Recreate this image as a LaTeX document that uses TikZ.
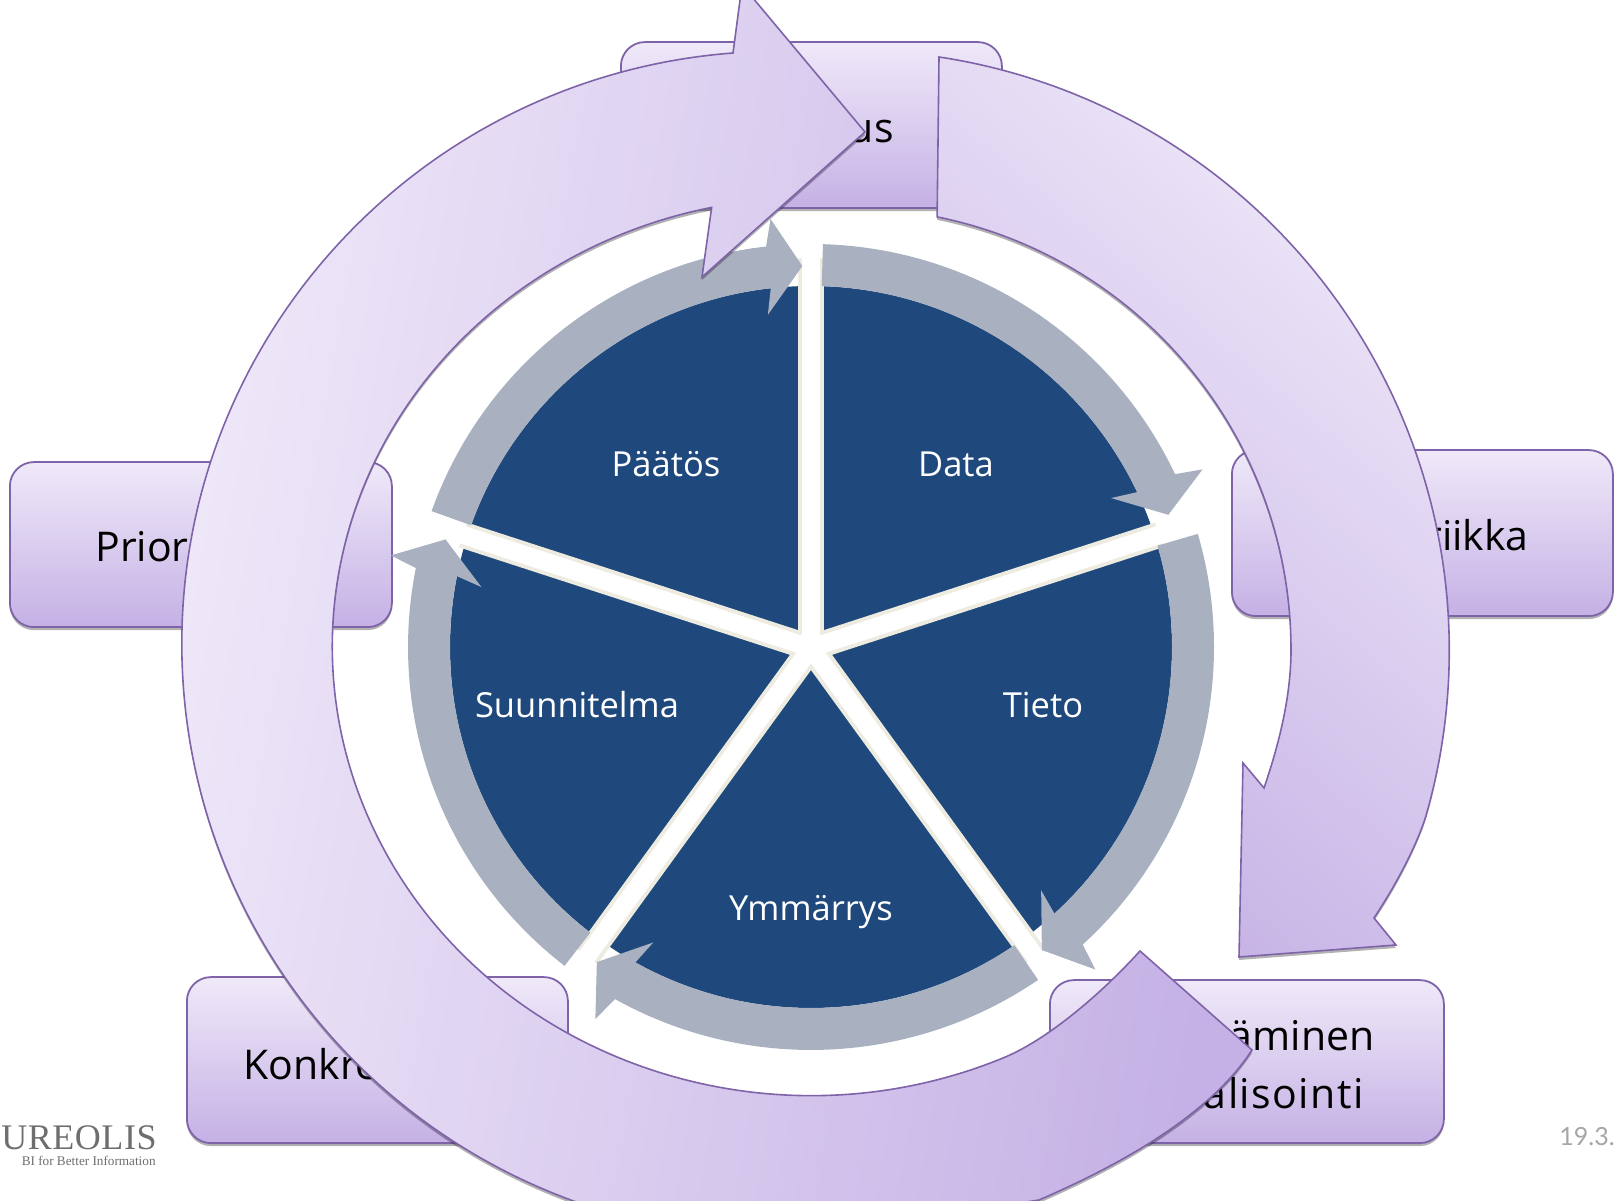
\documentclass[tikz,border=0pt]{standalone}
\usepackage{xcolor}
\usepackage{fontspec}
\setmainfont{Open Sans}
\newfontfamily\logofont{Liberation Serif}
\newfontfamily\datefont{Lato}
\usetikzlibrary{shadows}
\definecolor{edgepurple}{HTML}{7F63A8}
\definecolor{lightpurple}{HTML}{EFE9F9}
\definecolor{darkpurple}{HTML}{C5B1E5}
\definecolor{pieblue}{HTML}{1F497D}
\definecolor{ringgray}{HTML}{A9B0BF}
\definecolor{gapcream}{HTML}{EEECE1}
\definecolor{logogray}{HTML}{6E6E6E}
\tikzset{
 softshadow/.style={drop shadow={shadow xshift=0pt,shadow yshift=-1.5pt,opacity=.3,fill=black}},
 stagebox/.style={rectangle,rounded corners=12pt,draw=edgepurple,line width=.9pt,
   top color=lightpurple,bottom color=darkpurple,softshadow,anchor=south west},
 stagelabel/.style={font=\fontsize{20.5}{24}\selectfont,text=black,inner sep=0pt},
 pielabel/.style={font=\fontsize{17.25}{20}\selectfont,text=white,inner sep=0pt},
 bigarrow/.style={draw=edgepurple,line width=.8pt,line join=miter,softshadow},
}
\begin{document}
\begin{tikzpicture}[x=.5pt,y=.5pt]
 \useasboundingbox (0,0) rectangle (1617,1200);
 \clip (0,0) rectangle (1617,1200);

 \node[stagebox,minimum width=190.5pt,minimum height=83pt] (topbox) at (620,991) {};
 \node[stagebox,minimum width=190.5pt,minimum height=83pt] (rightbox) at (1231,583) {};
 \node[stagebox,minimum width=191pt,minimum height=82.5pt] (leftbox) at (9,572) {};
 \node[stagebox,minimum width=190.5pt,minimum height=83pt] (konkbox) at (186,56) {};
 \node[stagebox,minimum width=197pt,minimum height=81.5pt] (visbox) at (1049,56) {};

 \node[stagelabel,anchor=base east] (toplabel) at (894,1057) {us};
 \node[stagelabel,anchor=base east] (rightlabel) at (1529,649) {riikka};
 \node[stagelabel,anchor=base west] (leftlabel) at (95,638) {Prior};
 \node[stagelabel,anchor=base west] (konklabel) at (243,121) {Konkre};
 \node[stagelabel,anchor=base east] (vislabela) at (1375,149) {äminen};
 \node[stagelabel,anchor=base east,font=\fontsize{20.5}{24}\selectfont\addfontfeature{LetterSpace=3.5}]
   (vislabelb) at (1364,92) {alisointi};

 \fill[pieblue] (811,553) circle[radius=361];
 \foreach \ang/\len in {90/390,18/366,-54/381,-126/381,162/366} {
   \draw[gapcream,line width=13pt] (811,552) -- ++(\ang:\len);
 }
 \foreach \ang in {90,18,-54,-126,162} {
   \draw[white,line width=9pt] (811,552) -- ++(\ang:400);
 }
 \foreach \rot/\first in {0/88.3,-73/89.3,-144.5/88.8,143.3/89,71/89.3} {
   \begin{scope}[shift={(811,553)},rotate=\rot]
     \fill[ringgray] (\first:403) arc[start angle=\first,end angle=25.4,radius=403]
       -- (24.4:430) -- (20.3:381) -- (26.4:335) -- (25.4:361)
       arc[start angle=25.4,end angle=\first,radius=361] -- cycle;
   \end{scope}
 }

 \node[pielabel] (data) at (956,736) {Data};
 \node[pielabel] (paatos) at (666,736) {Päätös};
 \node[pielabel] (tieto) at (1043,495) {Tieto};
 \node[pielabel] (suunnitelma) at (577,495) {Suunnitelma};
 \node[pielabel] (ymmarrys) at (811,288) {Ymmärrys};

 \path[bigarrow,top color=lightpurple,bottom color=darkpurple,shading angle=-40]
   (939,1143) arc[start angle=81.4,end angle=-16,radius=600]
   .. controls (1417,355) and (1396,315) .. (1374,282)
   -- (1396,255) -- (1239,243) -- (1243,437) -- (1264,412)
   .. controls (1277,450) and (1291,500) .. (1291,550)
   arc[start angle=0,end angle=78.5,radius=442] -- cycle;
 \path[bigarrow,left color=lightpurple,right color=darkpurple,shading angle=80]
   (865,1068) -- (742,1215) -- (733,1147)
   arc[start angle=94.4,end angle=285,x radius=597,y radius=593]
   -- (1039,0) .. controls (1120,35) and (1210,85) .. (1252,150)
   -- (1140,249) .. controls (1100,205) and (1047,160) .. (1003,142)
   arc[start angle=-66.4,end angle=-258,x radius=479,y radius=449]
   -- (702,923) -- cycle;

 \node[anchor=base east,inner sep=0pt,text=logogray] (logo) at (157,51)
   {\logofont\fontsize{18}{20}\selectfont\addfontfeature{LetterSpace=1.5}UREOLIS};
 \node[anchor=base east,inner sep=0pt,text=logogray] (slogan) at (156,35)
   {\logofont\fontsize{6.6}{8}\selectfont BI for Better Information};
 \node[anchor=base west,inner sep=0pt,text=gray!70] (datemark) at (1559,55)
   {\datefont\fontsize{12.5}{15}\selectfont 19.3.};
\end{tikzpicture}
\end{document}
